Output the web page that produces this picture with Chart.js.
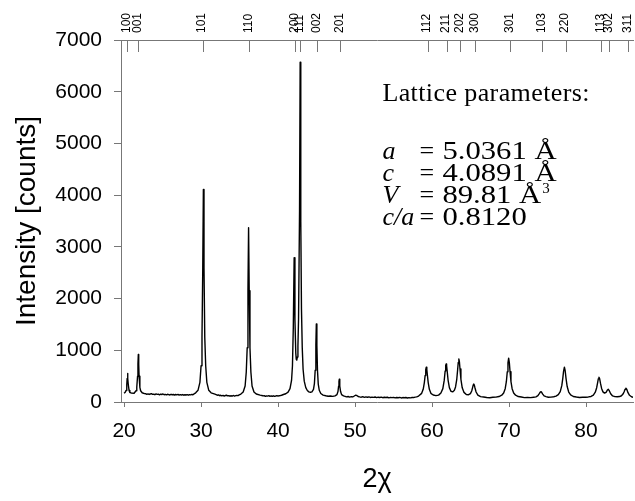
<!DOCTYPE html>
<html>
<head>
<meta charset="utf-8">
<title>XRD pattern</title>
<script src="https://cdn.jsdelivr.net/npm/chart.js@4.4.1/dist/chart.umd.min.js"></script>
<style>
  html, body { margin: 0; padding: 0; background: #fff; }
  #wrap { width: 635px; height: 501px; position: relative; }
</style>
</head>
<body>
<div id="wrap"><canvas id="xrd"></canvas></div>
<script>
// Diffraction angle (2θ, degrees) of each sample in the scan
const twoTheta = [
  20.00, 20.15, 20.25, 20.35, 20.40, 20.45, 20.50, 20.55, 20.65, 20.75, 20.95,
  21.30, 21.55, 21.65, 21.75, 21.80, 21.85, 21.90, 21.95, 22.05, 22.15, 22.35, 22.65,
  22.80, 22.95, 23.10, 23.25, 23.40, 23.55, 23.70, 23.85, 24.00, 24.15, 24.30, 24.45, 24.60, 24.75, 24.90,
  25.05, 25.20, 25.35, 25.50, 25.65, 25.80, 25.95, 26.10, 26.25, 26.40, 26.55, 26.70, 26.85, 27.00,
  27.15, 27.30, 27.45, 27.60, 27.75, 27.90, 28.05, 28.20, 28.35, 28.50, 28.65, 28.80, 28.95, 29.10,
  29.30, 29.60, 29.85, 30.00, 30.12, 30.22, 30.30, 30.38, 30.48, 30.60, 30.75, 31.00, 31.30, 31.80,
  31.95, 32.10, 32.25, 32.40, 32.55, 32.70, 32.85, 33.00, 33.15, 33.30, 33.45,
  33.60, 33.75, 33.90, 34.05, 34.20, 34.35, 34.50, 34.65, 34.80, 34.95,
  35.17, 35.47, 35.72, 35.87, 35.99, 36.09, 36.17, 36.25, 36.35, 36.47, 36.62, 36.87, 37.17, 37.67,
  37.90, 38.05, 38.20, 38.35, 38.50, 38.65, 38.80, 38.95, 39.10,
  39.25, 39.40, 39.55, 39.70, 39.85, 40.00, 40.15, 40.30, 40.45,
  40.70, 41.00, 41.30, 41.55, 41.75, 41.87, 41.98, 42.09, 42.19, 42.30, 42.36, 42.43,
  42.50, 42.58, 42.66, 42.79, 42.87, 42.95, 43.04, 43.14, 43.25, 43.40, 43.60, 43.80, 44.00, 44.20, 44.40,
  44.60, 44.72, 44.82, 44.91, 44.97, 45.04, 45.12, 45.22, 45.35, 45.55, 45.85, 46.20, 46.50, 46.80, 47.10, 47.40,
  47.65, 47.78, 47.86, 47.91, 47.95, 47.99, 48.04, 48.12, 48.25, 48.50,
  48.70, 48.90, 49.10, 49.30, 49.50, 49.70, 49.90, 50.05, 50.20, 50.40,
  50.60, 50.80, 51.00, 51.20, 51.40, 51.60, 51.80, 52.00, 52.20, 52.40,
  52.60, 52.80, 53.00, 53.20, 53.40, 53.60, 53.80, 54.00, 54.20, 54.40,
  54.60, 54.80, 55.00, 55.20, 55.40, 55.60, 55.80, 56.00, 56.20, 56.40,
  56.60, 56.80, 57.00, 57.20, 57.40, 57.60, 57.80, 58.00,
  58.25, 58.65, 58.85, 59.00, 59.10, 59.18, 59.25, 59.32, 59.40, 59.50, 59.65, 59.85,
  60.15, 60.50, 60.85, 61.15, 61.40, 61.58, 61.70, 61.77, 61.83, 61.89, 61.96, 62.08, 62.25, 62.45, 62.70,
  62.90, 63.05, 63.20, 63.32, 63.40, 63.48, 63.55, 63.63, 63.75, 63.92, 64.15, 64.45, 64.75,
  64.98, 65.15, 65.28, 65.36, 65.42, 65.49, 65.58, 65.72, 65.95, 66.30, 66.70,
  67.10, 67.50, 67.90, 68.30, 68.70, 69.05, 69.30, 69.50, 69.65, 69.77, 69.86, 69.95, 70.04, 70.13, 70.25, 70.40, 70.60, 70.85, 71.20, 71.60, 72.00,
  72.40, 72.80, 73.20, 73.50, 73.75, 73.95, 74.05, 74.13, 74.22, 74.35, 74.55, 74.80, 75.10, 75.45,
  75.80, 76.10, 76.40, 76.65, 76.85, 76.98, 77.08, 77.19, 77.29, 77.40, 77.55, 77.75, 78.00, 78.35, 78.75, 79.15, 79.55, 79.95,
  80.30, 80.65, 80.95, 81.20, 81.38, 81.50, 81.60, 81.68, 81.77, 81.88, 82.02, 82.20, 82.40, 82.60, 82.75, 82.89, 83.02, 83.20, 83.45, 83.75, 84.05, 84.35,
  84.60, 84.80, 84.95, 85.07, 85.18, 85.30, 85.45, 85.65, 85.90, 86.20, 86.50
];

// Detector counts at each angle above
const counts = [
  168, 190, 221, 333, 455, 550, 455, 333, 221, 185, 172,
  169, 218, 284, 499, 736, 920, 736, 499, 284, 218, 179, 162,
  160, 149, 158, 146, 155, 162, 148, 153, 141, 156, 147, 151, 139, 152, 145,
  155, 141, 148, 137, 150, 143, 136, 149, 140, 146, 134, 145, 139, 147,
  133, 142, 136, 144, 131, 140, 135, 143, 132, 141, 137, 146, 140, 158,
  178, 226, 380, 700, 1250, 2600, 4110, 2600, 1250, 700, 380, 226, 178, 151,
  143, 131, 138, 122, 130, 119, 127, 116, 125, 131, 118,
  124, 112, 121, 115, 126, 113, 122, 128, 124, 138,
  154, 193, 310, 580, 1050, 2150, 3370, 2150, 1050, 580, 310, 193, 154, 132,
  126, 118, 124, 110, 119, 113, 122, 108, 117,
  111, 120, 109, 116, 124, 113, 122, 126, 131,
  145, 160, 192, 258, 417, 700, 1450, 2790, 1600, 950, 830, 810,
  870, 1080, 1600, 3700, 6570, 3500, 1800, 1052, 634, 403, 277, 222, 196, 188, 197,
  246, 354, 615, 1100, 1510, 1100, 609, 346, 227, 165, 134, 121, 112, 116, 108, 118,
  143, 202, 305, 401, 440, 401, 305, 202, 143, 118,
  110, 99, 106, 95, 103, 98, 116, 131, 127, 107,
  99, 93, 102, 90, 98, 92, 100, 88, 95, 90,
  97, 85, 93, 87, 94, 83, 91, 86, 92, 81,
  89, 84, 90, 79, 87, 82, 89, 78, 86, 81,
  87, 77, 85, 80, 88, 86, 94, 99,
  115, 167, 246, 375, 513, 626, 673, 626, 513, 375, 246, 167,
  136, 124, 133, 174, 259, 418, 600, 701, 737, 703, 604, 425, 278, 208, 196,
  227, 291, 426, 619, 764, 834, 780, 638, 436, 274, 186, 146, 141,
  161, 213, 289, 335, 349, 328, 271, 193, 133, 103, 96,
  87, 81, 91, 94, 106, 131, 175, 258, 392, 584, 758, 847, 758, 584, 392, 258, 175, 131, 106, 96, 84,
  88, 84, 93, 100, 123, 168, 193, 200, 190, 157, 117, 104, 92, 95,
  101, 113, 142, 201, 316, 457, 593, 673, 605, 457, 299, 193, 137, 106, 96, 88, 93, 91,
  98, 107, 134, 189, 277, 372, 452, 479, 447, 359, 262, 196, 172, 188, 225, 246, 218, 160, 117, 104, 101, 105,
  121, 153, 199, 246, 266, 242, 181, 130, 102, 89, 82
];

// Calculated reflection positions (2θ) and their Miller indices
const hklPositions = [20.35, 21.85, 30.19, 36.19, 42.24, 42.89, 45.04, 48.07, 59.42, 61.88, 63.61, 65.60, 70.09, 74.24, 77.34, 81.96, 82.95, 85.45];
const hklLabels = ['100', '001', '101', '110', '200', '111', '002', '201', '112', '211', '202', '300', '301', '103', '220', '113', '302', '311'];

// Axis ticks
const xTicks = [20, 30, 40, 50, 60, 70, 80];
const yTicks = [0, 1000, 2000, 3000, 4000, 5000, 6000, 7000];

// Refined lattice parameters
const latticeTitle = 'Lattice parameters:';
const latticeSymbols = ['a', 'c', 'V', 'c/a'];
const latticeValues = ['5.0361 Å', '4.0891 Å', '89.81 Å', '0.8120'];
const latticeSuperscripts = ['', '', '3', ''];

const X_MIN = 19.6, X_MAX = 86.1;
const AXIS_COLOR = '#777';
const SANS = '"Liberation Sans", Arial, sans-serif';
const SERIF = '"Liberation Serif", "Times New Roman", serif';

Chart.defaults.font.family = SANS;
Chart.defaults.color = '#000';

const points = twoTheta.map((t, i) => ({ x: t, y: counts[i] }));

// Reflection markers hang down from the top frame line
const hklTickMarks = {
  id: 'hklTickMarks',
  afterDraw(chart) {
    const s = chart.scales.xTop;
    const top = chart.chartArea.top;
    const ctx = chart.ctx;
    ctx.save();
    ctx.strokeStyle = AXIS_COLOR;
    ctx.lineWidth = 1;
    ctx.beginPath();
    hklPositions.forEach(v => {
      const px = Math.round(s.getPixelForValue(v)) + 0.5;
      ctx.moveTo(px, top);
      ctx.lineTo(px, top + 12);
    });
    ctx.stroke();
    ctx.restore();
  }
};

// Lattice parameter block in the upper right of the plot
const latticeBox = {
  id: 'latticeBox',
  afterDraw(chart) {
    const xs = chart.scales.x, ys = chart.scales.y;
    const ctx = chart.ctx;
    const x0 = xs.getPixelForValue(53.55);
    const y0 = ys.getPixelForValue(5820);
    const stretch = 1.18;
    ctx.save();
    ctx.fillStyle = '#000';
    ctx.textBaseline = 'alphabetic';
    ctx.textAlign = 'left';
    ctx.font = '26px ' + SERIF;
    ctx.letterSpacing = '0.4px';
    ctx.fillText(latticeTitle, x0, y0);
    ctx.letterSpacing = '0px';
    latticeSymbols.forEach((sym, i) => {
      const y = y0 + 58.4 + i * 21.7;
      ctx.font = 'italic 26px ' + SERIF;
      ctx.fillText(sym, x0, y);
      ctx.font = '26px ' + SERIF;
      ctx.fillText('=', x0 + 37, y);
      // numbers are set a little wider than the labels
      const vx = x0 + 60;
      const w = ctx.measureText(latticeValues[i]).width * stretch;
      ctx.save();
      ctx.translate(vx, y);
      ctx.scale(stretch, 1);
      ctx.fillText(latticeValues[i], 0, 0);
      ctx.restore();
      if (latticeSuperscripts[i]) {
        ctx.font = '15px ' + SERIF;
        ctx.fillText(latticeSuperscripts[i], vx + w + 1, y - 10);
      }
    });
    ctx.restore();
  }
};

new Chart(document.getElementById('xrd'), {
  type: 'line',
  data: {
    datasets: [{
      data: points,
      borderColor: '#000',
      borderWidth: 1.4,
      borderJoinStyle: 'round',
      pointRadius: 0,
      tension: 0,
      fill: false
    }]
  },
  options: {
    responsive: true,
    maintainAspectRatio: false,
    animation: false,
    devicePixelRatio: 1,
    layout: { padding: 0 },
    plugins: { legend: { display: false }, tooltip: { enabled: false } },
    scales: {
      x: {
        type: 'linear',
        position: 'bottom',
        min: X_MIN, max: X_MAX,
        afterBuildTicks: s => { s.ticks = xTicks.map(v => ({ value: v })); },
        afterFit: s => { s.height = 99; },
        ticks: { font: { size: 21 }, color: '#000', padding: 12, maxRotation: 0, autoSkip: false, callback: v => String(v) },
        grid: { drawOnChartArea: false, drawTicks: true, tickLength: 5, color: AXIS_COLOR },
        border: { display: true, color: AXIS_COLOR, width: 1 },
        title: { display: true, text: '2χ', font: { size: 27 }, color: '#000', padding: { top: 0, bottom: 5 } }
      },
      xTop: {
        type: 'linear',
        position: 'top',
        min: X_MIN, max: X_MAX,
        afterBuildTicks: s => { s.ticks = hklPositions.map(v => ({ value: v })); },
        afterFit: s => { s.height = 40; },
        ticks: {
          font: { size: 12 }, color: '#000', padding: 7, autoSkip: false,
          minRotation: 90, maxRotation: 90, labelOffset: 14,
          callback: (v, i) => hklLabels[i]
        },
        grid: { drawOnChartArea: false, drawTicks: false },
        border: { display: true, color: AXIS_COLOR, width: 1 }
      },
      y: {
        type: 'linear',
        position: 'left',
        min: 0, max: 7000,
        afterBuildTicks: s => { s.ticks = yTicks.map(v => ({ value: v })); },
        afterFit: s => { s.width = 121; },
        ticks: { font: { size: 21 }, color: '#000', padding: 12, callback: v => String(v) },
        grid: { drawOnChartArea: false, drawTicks: true, tickLength: 7, color: AXIS_COLOR },
        border: { display: true, color: AXIS_COLOR, width: 1 },
        title: { display: true, text: 'Intensity [counts]', font: { size: 28 }, color: '#000', padding: { top: 10, bottom: 0 } }
      }
    }
  },
  plugins: [hklTickMarks, latticeBox]
});
</script>
</body>
</html>
